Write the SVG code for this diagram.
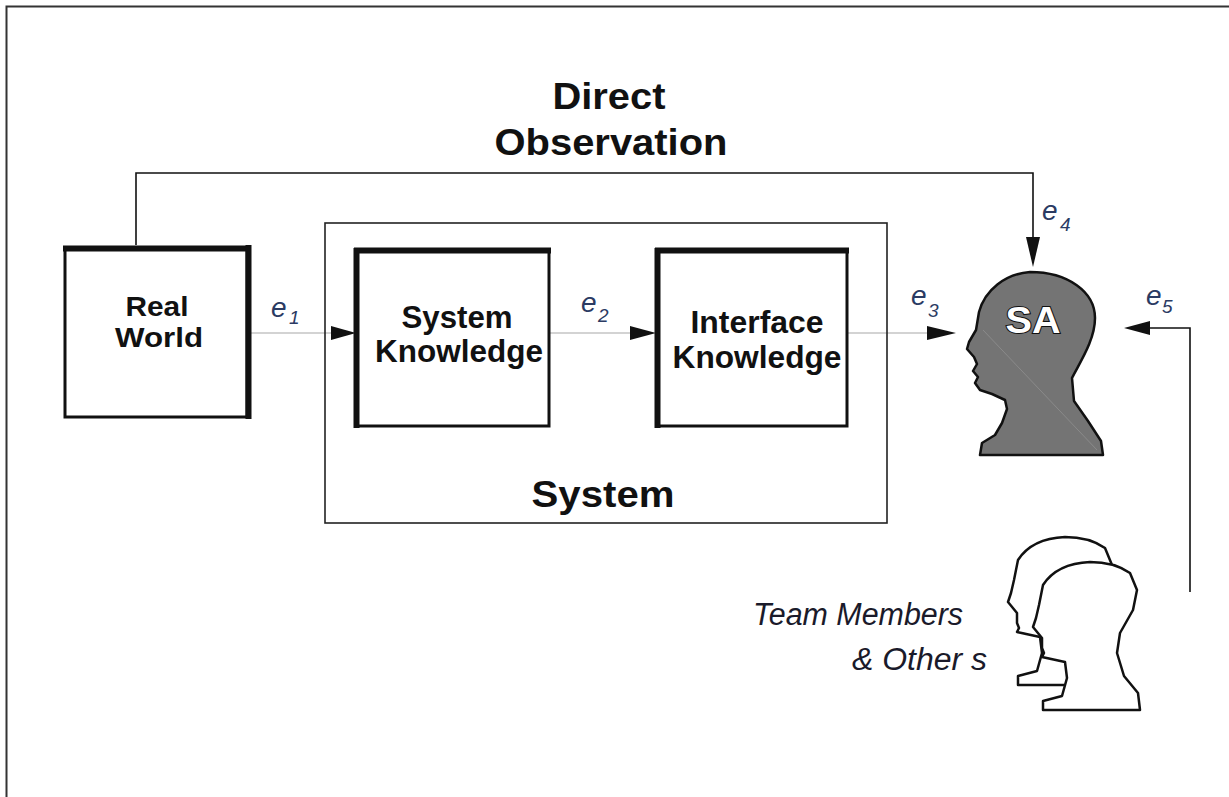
<svg xmlns="http://www.w3.org/2000/svg" width="1229" height="797" viewBox="0 0 1229 797">
<style>
  .frame{fill:none;stroke:#333;stroke-width:2}
  .box{fill:#fff;stroke:#111;stroke-width:3}
  .thick{stroke:#111;stroke-width:6;fill:none}
  .sys{fill:none;stroke:#222;stroke-width:1.6}
  .lbl{font-family:"Liberation Sans",Arial,sans-serif;font-weight:bold;fill:#111;text-anchor:middle}
  .elbl{font-family:"Liberation Sans",Arial,sans-serif;font-style:italic;fill:#2b3b63}
  .flow{stroke:#c4c4c4;stroke-width:1.5;fill:none}
  .conn{stroke:#111;stroke-width:1.6;fill:none}
  .head{fill:#111}
  .person{fill:#fff;stroke:#111;stroke-width:2.5;stroke-linejoin:round}
  .team{font-family:"Liberation Sans",Arial,sans-serif;font-style:italic;fill:#1a1a2a;font-size:31px}
</style>
<defs>
  <path id="mate" d="M1090,562 C1068,563 1052,571 1043,585 L1039,605 L1036,618 L1033,627 L1042,638 L1042,648 L1044,653 L1042,657 L1065,662 L1067,678 L1062,696 L1043,701 L1043,710 L1140,710 L1138,693 L1124,676 L1117,653 L1120,633 L1133,610 L1137,590 L1130,573 C1120,566 1105,562 1090,562 Z"/>
</defs>
<rect width="1229" height="797" fill="#fff"/>
<path class="frame" d="M6.5,800 V6.5 H1235"/>

<g id="connectors">
  <path class="conn" d="M136,245 V173 H1033 V240"/>
  <polygon class="head" points="1026,237 1033,267 1040,237"/>
  <path class="flow" d="M251,333 H334"/>
  <polygon class="head" points="331,326 356,333 331,340"/>
  <path class="flow" d="M550,333 H632"/>
  <polygon class="head" points="630,326 656,333 630,340"/>
  <path class="flow" d="M848,333 H929"/>
  <polygon class="head" points="927,326 956,333 927,340"/>
  <path class="conn" d="M1190,592 V328 H1148"/>
  <polygon class="head" points="1150,321 1124,328 1150,335"/>
  <text class="elbl" x="271" y="317" font-size="28">e</text>
  <text class="elbl" x="289" y="324" font-size="19">1</text>
  <text class="elbl" x="581" y="312" font-size="28">e</text>
  <text class="elbl" x="598" y="322" font-size="19">2</text>
  <text class="elbl" x="911" y="305" font-size="28">e</text>
  <text class="elbl" x="928" y="317" font-size="19">3</text>
  <text class="elbl" x="1042" y="220" font-size="28">e</text>
  <text class="elbl" x="1060" y="231" font-size="19">4</text>
  <text class="elbl" x="1146" y="305" font-size="28">e</text>
  <text class="elbl" x="1162" y="313" font-size="19">5</text>
</g>

<g id="direct-observation">
  <text class="lbl" x="609" y="109" font-size="37" textLength="113" lengthAdjust="spacingAndGlyphs">Direct</text>
  <text class="lbl" x="611" y="155" font-size="37" textLength="233" lengthAdjust="spacingAndGlyphs">Observation</text>
</g>

<g id="real-world">
  <rect class="box" x="65" y="248" width="182" height="169" stroke-width="2.5"/>
  <path class="thick" d="M63,248.5 H251"/>
  <path class="thick" d="M248.5,245 V419" stroke-width="5"/>
  <text class="lbl" x="157" y="316" font-size="28" textLength="63" lengthAdjust="spacingAndGlyphs">Real</text>
  <text class="lbl" x="159" y="347" font-size="28" textLength="88" lengthAdjust="spacingAndGlyphs">World</text>
</g>

<g id="system">
  <rect class="sys" x="325" y="223" width="562" height="300"/>
  <text class="lbl" x="603" y="507" font-size="37" textLength="143" lengthAdjust="spacingAndGlyphs">System</text>
</g>

<g id="system-knowledge">
  <rect class="box" x="357" y="251" width="192" height="175" stroke-width="3.5"/>
  <path class="thick" d="M354,250.5 H551"/>
  <path class="thick" d="M356.5,248 V428" stroke-width="5"/>
  <text class="lbl" x="457" y="328" font-size="31" textLength="111" lengthAdjust="spacingAndGlyphs">System</text>
  <text class="lbl" x="459" y="362" font-size="31" textLength="168" lengthAdjust="spacingAndGlyphs">Knowledge</text>
</g>

<g id="interface-knowledge">
  <rect class="box" x="658" y="251" width="189" height="175" stroke-width="3.5"/>
  <path class="thick" d="M655,250.5 H849"/>
  <path class="thick" d="M657.5,248 V428" stroke-width="5"/>
  <text class="lbl" x="757" y="333" font-size="31" textLength="133" lengthAdjust="spacingAndGlyphs">Interface</text>
  <text class="lbl" x="757" y="368" font-size="31" textLength="169" lengthAdjust="spacingAndGlyphs">Knowledge</text>
</g>

<g id="sa-head">
  <path d="M1030,272 C1005,274 985,290 979,312 L976,330 L969,342 L967,349 L974,357 L977,364 L973,371 L978,377 L975,383 L980,390 L992,394 L1005,400 L1007,409 L1002,423 L995,435 L982,443 L980,455 L1103,455 L1101,441 L1088,421 L1074,401 L1072,378 C1080,362 1095,340 1095,318 C1095,292 1068,272 1030,272 Z" fill="#747474" stroke="#111" stroke-width="2.5" stroke-linejoin="round"/>
  <path d="M983,330 L1097,450" stroke="#8a8a8a" stroke-width="1" fill="none"/>
  <text x="1033" y="333" font-family="'Liberation Sans',Arial,sans-serif" font-weight="bold" font-size="36" text-anchor="middle" textLength="55" lengthAdjust="spacingAndGlyphs" fill="#fff" stroke="#111" stroke-width="2" paint-order="stroke">SA</text>
</g>

<g id="team-members">
  <use href="#mate" class="person" transform="translate(-25,-25)"/>
  <use href="#mate" class="person"/>
  <text class="team" x="753" y="625" textLength="210" lengthAdjust="spacingAndGlyphs">Team Members</text>
  <text class="team" x="852" y="670" textLength="135" lengthAdjust="spacingAndGlyphs">&amp; Other s</text>
</g>
</svg>
